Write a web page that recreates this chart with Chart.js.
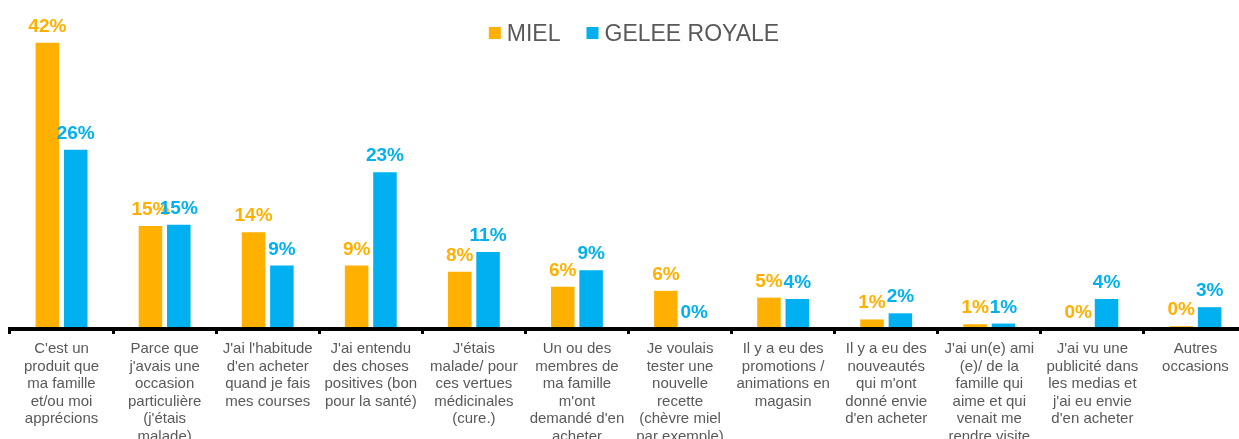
<!DOCTYPE html>
<html lang="fr">
<head>
<meta charset="utf-8">
<title>Raisons d'achat : miel et gelée royale</title>
<script src="https://cdn.jsdelivr.net/npm/chart.js@4/dist/chart.umd.min.js"></script>
<style>
  html, body { margin: 0; padding: 0; background: #fff; overflow: hidden; }
  #wrap { width: 1250px; height: 439px; }
</style>
</head>
<body>
<div id="wrap"><canvas id="c" width="1250" height="439"></canvas></div>
<script>
// Reasons for buying, one entry per group of bars (multi-line labels)
const categories = [
  ["C'est un", "produit que", "ma famille", "et/ou moi", "apprécions"],
  ["Parce que", "j'avais une", "occasion", "particulière", "(j'étais", "malade)"],
  ["J'ai l'habitude", "d'en acheter", "quand je fais", "mes courses"],
  ["J'ai entendu", "des choses", "positives (bon", "pour la santé)"],
  ["J'étais", "malade/ pour", "ces vertues", "médicinales", "(cure.)"],
  ["Un ou des", "membres de", "ma famille", "m'ont", "demandé d'en", "acheter"],
  ["Je voulais", "tester une", "nouvelle", "recette", "(chèvre miel", "par exemple)"],
  ["Il y a eu des", "promotions /", "animations en", "magasin"],
  ["Il y a eu des", "nouveautés", "qui m'ont", "donné envie", "d'en acheter"],
  ["J'ai un(e) ami", "(e)/ de la", "famille qui", "aime et qui", "venait me", "rendre visite"],
  ["J'ai vu une", "publicité dans", "les medias et", "j'ai eu envie", "d'en acheter"],
  ["Autres", "occasions"]
];

// Share of respondents (%)
const miel         = [42, 15.1, 14.2, 9.3, 8.4, 6.2, 5.6, 4.6, 1.4, 0.7, 0, 0.4];
const geleeRoyale  = [26.3, 15.3, 9.3, 23.0, 11.3, 8.6, 0, 4.4, 2.3, 0.8, 4.4, 3.2];

const seriesNames  = ["MIEL", "GELEE ROYALE"];
const seriesColors = ["#FFB000", "#00B0F0"];

const pct = v => Math.round(v) + '%';

// Value labels above each bar, in the series colour
const valueLabels = {
  id: 'valueLabels',
  afterDatasetsDraw(chart) {
    const ctx = chart.ctx;
    ctx.save();
    ctx.font = 'bold 19px "Liberation Sans", Arial, sans-serif';
    ctx.textAlign = 'center';
    ctx.textBaseline = 'alphabetic';
    chart.data.datasets.forEach((ds, i) => {
      const meta = chart.getDatasetMeta(i);
      ctx.fillStyle = ds.backgroundColor;
      meta.data.forEach((bar, j) => {
        ctx.fillText(pct(ds.data[j]), bar.x, bar.y - 11);
      });
    });
    ctx.restore();
  }
};

// Legend row across the top of the plot
const topLegend = {
  id: 'topLegend',
  afterDraw(chart) {
    const ctx = chart.ctx;
    ctx.save();
    ctx.font = '23px "Liberation Sans", Arial, sans-serif';
    ctx.textBaseline = 'alphabetic';
    const box = 12, boxGap = 6, itemGap = 26;
    const items = chart.data.datasets.map(ds => ({
      text: ds.label, color: ds.backgroundColor, w: ctx.measureText(ds.label).width
    }));
    const total = items.reduce((s, it) => s + box + boxGap + it.w, 0) + itemGap * (items.length - 1);
    let x = 634 - total / 2;
    items.forEach(it => {
      ctx.fillStyle = it.color;
      ctx.fillRect(x, 27, box, box);
      ctx.fillStyle = '#595959';
      ctx.fillText(it.text, x + box + boxGap, 41);
      x += box + boxGap + it.w + itemGap;
    });
    ctx.restore();
  }
};

new Chart(document.getElementById('c'), {
  type: 'bar',
  data: {
    labels: categories,
    datasets: [
      { label: seriesNames[0], data: miel, backgroundColor: seriesColors[0] },
      { label: seriesNames[1], data: geleeRoyale, backgroundColor: seriesColors[1] }
    ]
  },
  options: {
    responsive: false,
    animation: false,
    devicePixelRatio: 1,
    categoryPercentage: 0.55,
    barPercentage: 0.83,
    layout: { padding: { top: 29, left: 10, right: 3, bottom: 0 } },
    plugins: { legend: { display: false }, tooltip: { enabled: false } },
    scales: {
      x: {
        afterFit(scale) { scale.height = 110; },
        grid: {
          offset: true,
          drawOnChartArea: false,
          drawTicks: true,
          tickLength: 5,
          tickWidth: 3,
          tickColor: '#000'
        },
        border: { display: true, color: '#000', width: 4, z: 1 },
        ticks: {
          color: '#595959',
          padding: 6,
          maxRotation: 0,
          autoSkip: false,
          font: { family: '"Liberation Sans", Arial, sans-serif', size: 15, lineHeight: '17.6px' }
        }
      },
      y: {
        display: false,
        min: 0,
        max: 44
      }
    }
  },
  plugins: [valueLabels, topLegend]
});
</script>
</body>
</html>
